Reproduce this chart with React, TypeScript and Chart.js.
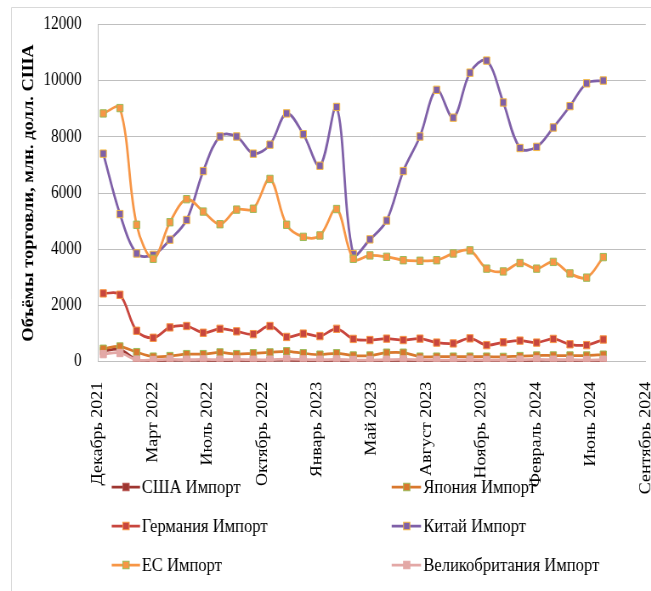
import { useEffect, useRef } from 'react';
import { Chart, registerables } from 'chart.js';

Chart.register(...registerables);

// ---- data ----
const months = [
  'Декабрь 2021', 'Январь 2022', 'Февраль 2022', 'Март 2022', 'Апрель 2022', 'Май 2022', 'Июнь 2022',
  'Июль 2022', 'Август 2022', 'Сентябрь 2022', 'Октябрь 2022', 'Ноябрь 2022', 'Декабрь 2022',
  'Январь 2023', 'Февраль 2023', 'Март 2023', 'Апрель 2023', 'Май 2023', 'Июнь 2023', 'Июль 2023',
  'Август 2023', 'Сентябрь 2023', 'Октябрь 2023', 'Ноябрь 2023', 'Декабрь 2023', 'Январь 2024',
  'Февраль 2024', 'Март 2024', 'Апрель 2024', 'Май 2024', 'Июнь 2024',
];

const axisLabels = [
  'Декабрь 2021', 'Март 2022', 'Июль 2022', 'Октябрь 2022', 'Январь 2023', 'Май 2023',
  'Август 2023', 'Ноябрь 2023', 'Февраль 2024', 'Июнь 2024', 'Сентябрь 2024',
];

const usaImport = [380, 430, 80, 40, 40, 50, 40, 40, 40, 40, 40, 50, 30, 10, 30, 40, 40, 40, 40, 40, 40, 40, 40, 20, 40, 40, 40, 50, 40, 40, 40];
const japanImport = [460, 540, 340, 180, 200, 270, 270, 330, 270, 300, 330, 370, 300, 250, 300, 220, 220, 320, 320, 180, 180, 180, 180, 180, 170, 200, 220, 220, 220, 220, 250];
const germanyImport = [2430, 2380, 1100, 850, 1220, 1270, 1030, 1170, 1080, 980, 1270, 880, 1000, 910, 1170, 810, 770, 820, 770, 820, 680, 650, 830, 590, 690, 750, 680, 810, 620, 590, 790];
const chinaImport = [7400, 5250, 3850, 3800, 4340, 5040, 6780, 8010, 8010, 7400, 7720, 8830, 8090, 6970, 9060, 3820, 4350, 5020, 6780, 8010, 9670, 8680, 10280, 10710, 9220, 7600, 7640, 8330, 9090, 9900, 10000];
const euImport = [8830, 9020, 4870, 3660, 4960, 5780, 5340, 4890, 5410, 5440, 6500, 4870, 4440, 4490, 5430, 3660, 3780, 3730, 3610, 3590, 3610, 3850, 3960, 3310, 3210, 3510, 3310, 3550, 3140, 2990, 3720];
const ukImport = [270, 310, 70, 60, 80, 70, 80, 70, 80, 70, 70, 90, 80, 70, 80, 60, 60, 70, 80, 70, 60, 60, 70, 60, 60, 70, 80, 70, 70, 60, 70];

const seriesNames = ['США Импорт', 'Япония Импорт', 'Германия Импорт', 'Китай Импорт', 'ЕС Импорт', 'Великобритания Импорт'];
const seriesValues = [usaImport, japanImport, germanyImport, chinaImport, euImport, ukImport];
const lineColors = ['#9E3631', '#D9782E', '#C8463E', '#7F60A8', '#F79646', '#E3A8A6'];
const markerFills = ['#9E3631', '#D9782E', '#C8463E', '#7F60A8', '#F79646', '#E3A8A6'];
const markerBorders = ['#B85450', '#9BBB59', '#F79646', '#F5B940', '#9BBB59', '#E3A8A6'];

const yTicks = [0, 2000, 4000, 6000, 8000, 10000, 12000];

// ---- layout constants (unscaled canvas space) ----
const SX = 0.85;
const W = 766;
const H = 591;
const AXIS_START = -0.3;
const AXIS_STEP = 100 / 30.44;
const FONT = "'Liberation Serif', 'Times New Roman', serif";

const legendPlugin = {
  id: 'customLegend',
  afterDraw(chart: any) {
    const ctx = chart.ctx;
    const cols = [
      { lx1: 131.4, lx2: 164.7, mx: 148.2, tx: 166.7 },
      { lx1: 460.8, lx2: 495.3, mx: 478.5, tx: 498 },
    ];
    const rows = [487, 526, 565];
    ctx.save();
    chart.data.datasets.forEach((ds: any, i: number) => {
      const c = cols[i % 2];
      const y = rows[Math.floor(i / 2)];
      ctx.strokeStyle = ds.borderColor;
      ctx.lineWidth = 2.75;
      ctx.beginPath();
      ctx.moveTo(c.lx1, y);
      ctx.lineTo(c.lx2, y);
      ctx.stroke();
      const s = 7.5;
      ctx.fillStyle = ds.pointBackgroundColor;
      ctx.fillRect(c.mx - s / 2, y - s / 2, s, s);
      ctx.strokeStyle = ds.pointBorderColor;
      ctx.lineWidth = 1;
      ctx.strokeRect(c.mx - s / 2, y - s / 2, s, s);
      ctx.fillStyle = '#000';
      ctx.font = `19.5px ${FONT}`;
      ctx.textBaseline = 'middle';
      ctx.textAlign = 'left';
      ctx.fillText(ds.label, c.tx, y + 1);
    });
    ctx.restore();
  },
};

const framePlugin = {
  id: 'frame',
  beforeDraw(chart: any) {
    const ctx = chart.ctx;
    ctx.save();
    ctx.fillStyle = '#fff';
    ctx.fillRect(0, 0, chart.width, chart.height);
    ctx.strokeStyle = '#D9D9D9';
    ctx.lineWidth = 1;
    ctx.beginPath();
    ctx.moveTo(13.5, H);
    ctx.lineTo(13.5, 7.5);
    ctx.lineTo(W, 7.5);
    ctx.stroke();
    ctx.restore();
  },
};

export default function App() {
  const ref = useRef<HTMLCanvasElement | null>(null);

  useEffect(() => {
    if (!ref.current) return;
    const datasets = seriesValues.map((vals, i) => ({
      label: seriesNames[i],
      data: vals.map((v, k) => ({ x: k, y: v, m: months[k] })),
      borderColor: lineColors[i],
      backgroundColor: lineColors[i],
      borderWidth: 2.75,
      tension: 0.35,
      pointStyle: 'rect',
      pointRadius: 5.2,
      pointBorderWidth: 1,
      pointBackgroundColor: markerFills[i],
      pointBorderColor: markerBorders[i],
      order: seriesValues.length - i,
      fill: false,
    }));

    const chart = new Chart(ref.current, {
      type: 'line',
      data: { datasets },
      plugins: [framePlugin, legendPlugin],
      options: {
        animation: false,
        responsive: false,
        maintainAspectRatio: false,
        layout: { padding: { left: 0, right: 3.6, top: 24.3, bottom: 0 } },
        plugins: { legend: { display: false }, tooltip: { enabled: false } },
        scales: {
          x: {
            type: 'linear',
            min: AXIS_START,
            max: AXIS_START + AXIS_STEP * (axisLabels.length - 1),
            grid: { display: false },
            border: { display: true, color: '#BFBFBF', width: 1 },
            afterBuildTicks: (scale: any) => {
              scale.ticks = axisLabels.map((_, i) => ({ value: AXIS_START + AXIS_STEP * i }));
            },
            afterFit: (scale: any) => {
              scale.height = H - 361.7;
              scale.paddingLeft = 0;
              scale.paddingRight = 0;
            },
            ticks: {
              autoSkip: false,
              minRotation: 90,
              maxRotation: 90,
              padding: 12,
              color: '#000',
              font: { family: FONT, size: 18 },
              callback: (_v: any, i: number) => axisLabels[i],
            },
          },
          y: {
            min: yTicks[0],
            max: yTicks[yTicks.length - 1],
            afterBuildTicks: (scale: any) => {
              scale.ticks = yTicks.map((v) => ({ value: v }));
            },
            afterFit: (scale: any) => {
              scale.width = 115.6;
              scale.paddingTop = 0;
              scale.paddingBottom = 0;
            },
            grid: { color: '#BFBFBF', lineWidth: 1, drawTicks: false },
            border: { display: true, color: '#BFBFBF', width: 1 },
            ticks: {
              padding: 19.5,
              color: '#000',
              font: { family: FONT, size: 18 },
              callback: (v: any) => String(v),
            },
            title: {
              display: true,
              text: 'Объёмы торговли, млн. долл. США',
              color: '#000',
              font: { family: FONT, size: 18.5, weight: 'bold' },
              padding: { top: 23, bottom: 0 },
            },
          },
        },
      } as any,
    });
    return () => chart.destroy();
  }, []);

  return (
    <div style={{ position: 'fixed', left: 0, top: 0, width: 651, height: 591, overflow: 'hidden', background: '#fff' }}>
      <div style={{ width: W, height: H, transform: `scaleX(${SX})`, transformOrigin: '0 0' }}>
        <canvas ref={ref} width={W} height={H} style={{ display: 'block', width: W, height: H }} />
      </div>
    </div>
  );
}
